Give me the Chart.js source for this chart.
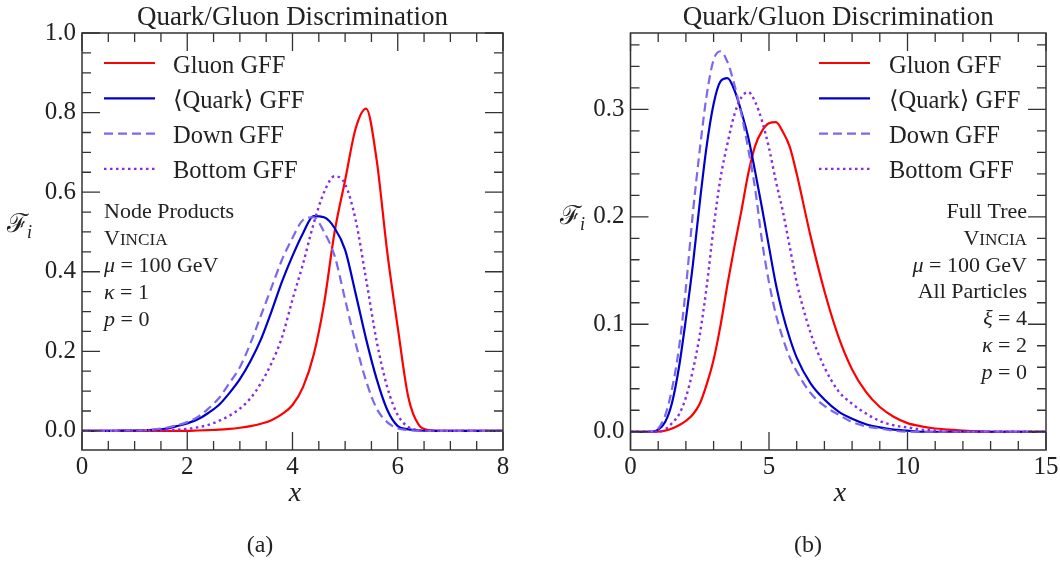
<!DOCTYPE html>
<html>
<head>
<meta charset="utf-8">
<script src="https://cdn.jsdelivr.net/npm/chart.js@4"></script>
<style>
  body { margin: 0; background: #fff; width: 1060px; height: 563px; overflow: hidden; }
  .pane { position: absolute; top: 0; width: 530px; height: 563px; }
</style>
</head>
<body>
<div class="pane" style="left:0"><canvas id="chartA" width="530" height="563"></canvas></div>
<div class="pane" style="left:530px"><canvas id="chartB" width="530" height="563"></canvas></div>
<script>
// ---- data ----
// panel (a): node products
const xA = [0,0.2,0.4,0.6,0.8,1,1.2,1.4,1.6,1.8,2,2.2,2.4,2.6,2.8,3,3.2,3.4,3.6,3.8,4,4.2,4.4,4.6,4.8,5,5.2,5.4,5.6,5.8,6,6.2,6.4,6.6,6.8,7,7.2,7.4,7.6,7.8,8];
const gluonA = [0,0,0,0,0,0,0,0,0,0,0,0.001,0.002,0.003,0.005,0.008,0.012,0.018,0.027,0.042,0.065,0.11,0.19,0.32,0.50,0.63,0.76,0.81,0.68,0.45,0.26,0.085,0.015,0.002,0,0,0,0,0,0,0];
const quarkA = [0,0,0,0,0.001,0.001,0.002,0.003,0.006,0.012,0.019,0.029,0.045,0.065,0.095,0.13,0.175,0.23,0.30,0.375,0.44,0.497,0.54,0.537,0.51,0.455,0.345,0.23,0.13,0.053,0.012,0.004,0.001,0,0,0,0,0,0,0,0];
const downA = [0,0,0,0,0.001,0.001,0.002,0.004,0.008,0.014,0.022,0.035,0.056,0.082,0.12,0.16,0.22,0.29,0.36,0.43,0.485,0.53,0.537,0.50,0.44,0.33,0.22,0.125,0.056,0.022,0.006,0.002,0,0,0,0,0,0,0,0,0];
const bottomA = [0,0,0,0,0,0,0.001,0.001,0.002,0.003,0.005,0.009,0.015,0.025,0.038,0.056,0.082,0.12,0.17,0.235,0.33,0.42,0.52,0.60,0.64,0.62,0.53,0.38,0.225,0.11,0.04,0.01,0.002,0,0,0,0,0,0,0,0];
const xTicksA = [0, 2, 4, 6, 8];
const yTicksA = [0, 0.2, 0.4, 0.6, 0.8, 1.0];

// panel (b): full tree
const xB = [0,0.25,0.5,0.75,1,1.25,1.5,1.75,2,2.25,2.5,2.75,3,3.25,3.5,3.75,4,4.25,4.5,4.75,5,5.25,5.5,5.75,6,6.5,7,7.5,8,8.5,9,9.5,10,10.5,11,11.5,12,13,14,15];
const gluonB = [0,0,0,0,0,0.001,0.003,0.006,0.010,0.016,0.026,0.044,0.067,0.099,0.137,0.172,0.205,0.24,0.266,0.280,0.287,0.288,0.279,0.265,0.240,0.182,0.131,0.089,0.058,0.037,0.023,0.014,0.008,0.005,0.003,0.002,0.001,0,0,0];
const quarkB = [0,0,0,0,0.002,0.009,0.027,0.060,0.105,0.155,0.213,0.266,0.305,0.326,0.329,0.318,0.298,0.274,0.242,0.208,0.172,0.137,0.109,0.087,0.069,0.045,0.030,0.019,0.012,0.007,0.004,0.002,0.001,0,0,0,0,0,0,0];
const downB = [0,0,0,0,0.003,0.015,0.040,0.078,0.134,0.203,0.262,0.313,0.346,0.354,0.344,0.323,0.296,0.263,0.226,0.177,0.139,0.109,0.087,0.069,0.056,0.036,0.024,0.016,0.009,0.005,0.003,0.001,0,0,0,0,0,0,0,0];
const bottomB = [0,0,0,0,0,0.002,0.008,0.016,0.032,0.057,0.09,0.135,0.19,0.236,0.268,0.295,0.311,0.316,0.307,0.289,0.264,0.233,0.205,0.172,0.139,0.092,0.060,0.038,0.026,0.017,0.010,0.006,0.004,0.002,0.001,0,0,0,0,0];
const xTicksB = [0, 5, 10, 15];
const yTicksB = [0, 0.1, 0.2, 0.3];

const seriesLabels = ['Gluon GFF', '\u27E8Quark\u27E9 GFF', 'Down GFF', 'Bottom GFF'];

// ---- styling ----
const SERIF = "'Liberation Serif', 'DejaVu Serif', serif";
const INK = '#222';
const styles = [
  { color: '#ff0000', dash: [], width: 2.2, order: 3 },
  { color: '#0000cc', dash: [], width: 2.2, order: 2 },
  { color: '#7b68ee', dash: [9, 5], width: 2.2, order: 1 },
  { color: '#8a2be2', dash: [2.5, 3.5], width: 2.4, order: 0 },
];

function pts(xs, ys) {
  return xs.map((x, i) => ({ x: x, y: ys[i] }));
}

function makeDatasets(xs, list) {
  return list.map((ys, i) => ({
    label: seriesLabels[i],
    data: pts(xs, ys),
    borderColor: styles[i].color,
    borderDash: styles[i].dash,
    borderWidth: styles[i].width,
    order: styles[i].order,
    pointRadius: 0,
    fill: false,
    cubicInterpolationMode: 'monotone',
  }));
}

// draw a line made of pieces: {t, it (italic), s (size factor)}
function richWidth(ctx, parts, size) {
  let w = 0;
  parts.forEach(p => {
    ctx.font = (p.it ? 'italic ' : '') + (size * (p.s || 1)) + 'px ' + SERIF;
    w += ctx.measureText(p.t).width;
  });
  return w;
}
function drawRich(ctx, parts, x, y, align, size) {
  let cx = align === 'right' ? x - richWidth(ctx, parts, size) : x;
  ctx.textAlign = 'left';
  ctx.textBaseline = 'alphabetic';
  parts.forEach(p => {
    ctx.font = (p.it ? 'italic ' : '') + (size * (p.s || 1)) + 'px ' + SERIF;
    ctx.fillText(p.t, cx, y);
    cx += ctx.measureText(p.t).width;
  });
}

const vincia = [{ t: 'V' }, { t: 'INCIA', s: 0.78 }];
const mu = [{ t: '\u03BC', it: true }, { t: ' = 100 GeV' }];

const decor = {
  id: 'decor',
  afterDraw(chart, args, o) {
    const { ctx, chartArea: a, scales: { x, y } } = chart;
    ctx.save();
    // frame
    ctx.strokeStyle = '#333';
    ctx.lineWidth = 1.5;
    ctx.setLineDash([]);
    ctx.strokeRect(a.left, a.top, a.right - a.left, a.bottom - a.top);
    // inward ticks on all four sides
    ctx.lineWidth = 1.3;
    ctx.beginPath();
    const isMajor = (v, m) => Math.abs(v / m - Math.round(v / m)) < 1e-6;
    for (let k = Math.ceil(x.min / o.xMinor - 1e-9); k * o.xMinor <= x.max + 1e-9; k++) {
      const v = k * o.xMinor, px = x.getPixelForValue(v);
      const len = isMajor(v, o.xMajor) ? 18 : 9;
      ctx.moveTo(px, a.bottom); ctx.lineTo(px, a.bottom - len);
      ctx.moveTo(px, a.top); ctx.lineTo(px, a.top + len);
    }
    for (let k = Math.ceil(y.min / o.yMinor - 1e-9); k * o.yMinor <= y.max + 1e-9; k++) {
      const v = k * o.yMinor, py = y.getPixelForValue(v);
      const len = isMajor(v, o.yMajor) ? 18 : 9;
      ctx.moveTo(a.left, py); ctx.lineTo(a.left + len, py);
      ctx.moveTo(a.right, py); ctx.lineTo(a.right - len, py);
    }
    ctx.stroke();

    ctx.fillStyle = INK;
    // title
    ctx.font = '27px ' + SERIF;
    ctx.textAlign = 'center';
    ctx.textBaseline = 'alphabetic';
    ctx.fillText('Quark/Gluon Discrimination', (a.left + a.right) / 2, 25);
    // axis titles
    ctx.font = 'italic 28px ' + SERIF;
    ctx.fillText('x', o.xTitleX, 501);
    ctx.font = '24px ' + SERIF;
    ctx.fillText(o.caption, o.captionX, 552);
    ctx.textAlign = 'left';
    ctx.font = '26px ' + SERIF;
    ctx.fillText('\u2131', o.yTitle[0], o.yTitle[1]);
    const fw = ctx.measureText('\u2131').width;
    ctx.font = 'italic 18px ' + SERIF;
    ctx.fillText('i', o.yTitle[0] + fw - 1, o.yTitle[1] + 6);

    // legend
    chart.data.datasets.forEach((ds, i) => {
      const ly = 63 + i * 35.3;
      ctx.strokeStyle = ds.borderColor;
      ctx.lineWidth = ds.borderWidth;
      ctx.setLineDash(ds.borderDash);
      ctx.beginPath();
      ctx.moveTo(o.legend[0], ly);
      ctx.lineTo(o.legend[1], ly);
      ctx.stroke();
      ctx.setLineDash([]);
      ctx.font = '24.5px ' + SERIF;
      ctx.fillStyle = INK;
      ctx.fillText(ds.label, o.legend[2], ly + 9.5);
    });

    // annotation block
    o.notes.forEach((line, i) => {
      drawRich(ctx, line, o.noteX, 218 + i * o.noteGap, o.noteAlign, 22);
    });
    ctx.restore();
  }
};

function makeChart(id, xs, list, xTicks, yTicks, range, panel) {
  return new Chart(document.getElementById(id), {
    type: 'line',
    data: { datasets: makeDatasets(xs, list) },
    options: {
      responsive: false,
      animation: false,
      layout: { padding: { top: 33, right: panel.padRight, left: 0, bottom: 0 } },
      plugins: { legend: { display: false }, tooltip: { enabled: false }, decor: panel },
      scales: {
        x: {
          type: 'linear', min: range[0], max: range[1],
          grid: { display: false }, border: { display: false },
          afterBuildTicks: s => { s.ticks = xTicks.map(v => ({ value: v })); },
          afterFit: s => { s.height = 113; },
          ticks: { padding: -6, color: INK, font: { family: SERIF, size: 25 }, maxRotation: 0,
                   callback: v => String(v) },
        },
        y: {
          type: 'linear', min: range[2], max: range[3],
          grid: { display: false }, border: { display: false },
          afterBuildTicks: s => { s.ticks = yTicks.map(v => ({ value: v })); },
          afterFit: s => { s.width = panel.yWidth; },
          ticks: { padding: -2, color: INK, font: { family: SERIF, size: 25 },
                   callback: v => Number(v).toFixed(1) },
        },
      },
    },
    plugins: [decor],
  });
}

makeChart('chartA', xA, [gluonA, quarkA, downA, bottomA], xTicksA, yTicksA, [0, 8, -0.048, 1.0], {
  padRight: 27, yWidth: 82,
  xMinor: 0.5, xMajor: 2, yMinor: 0.05, yMajor: 0.2,
  xTitleX: 295, caption: '(a)', captionX: 260, yTitle: [7, 232],
  legend: [104, 155, 173],
  noteX: 104, noteAlign: 'left', noteGap: 27,
  notes: [
    [{ t: 'Node Products' }],
    vincia,
    mu,
    [{ t: '\u03BA', it: true }, { t: ' = 1' }],
    [{ t: 'p', it: true }, { t: ' = 0' }],
  ],
});

makeChart('chartB', xB, [gluonB, quarkB, downB, bottomB], xTicksB, yTicksB, [0, 15, -0.017, 0.371], {
  padRight: 14, yWidth: 100.5,
  xMinor: 1, xMajor: 5, yMinor: 0.02, yMajor: 0.1,
  xTitleX: 310, caption: '(b)', captionX: 278, yTitle: [30, 224],
  legend: [289, 340, 359],
  noteX: 497, noteAlign: 'right', noteGap: 26.8,
  notes: [
    [{ t: 'Full Tree' }],
    vincia,
    mu,
    [{ t: 'All Particles' }],
    [{ t: '\u03BE', it: true }, { t: ' = 4' }],
    [{ t: '\u03BA', it: true }, { t: ' = 2' }],
    [{ t: 'p', it: true }, { t: ' = 0' }],
  ],
});
</script>
</body>
</html>
